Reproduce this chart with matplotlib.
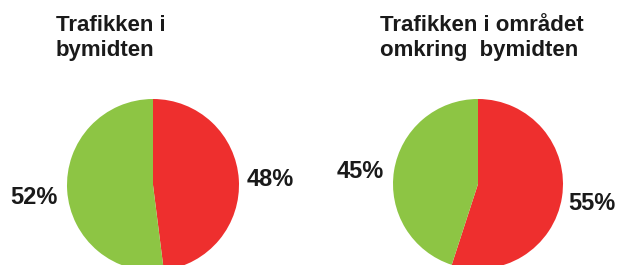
import matplotlib
matplotlib.use("Agg")
import matplotlib.pyplot as plt

titles = ["Trafikken i\nbymidten", "Trafikken i området\nomkring  bymidten"]
categories = ["Rød", "Grøn"]
left_values = [48, 52]
right_values = [55, 45]
colors = ["#EE2F2E", "#8DC544"]

W, H = 617, 265
fig = plt.figure(figsize=(W / 100, H / 100), dpi=100)
ax = fig.add_axes([0, 0, 1, 1])

font = dict(family=["Liberation Sans", "DejaVu Sans"], weight="bold", color="#1a1a1a")

ax.pie(left_values, colors=colors, startangle=90, counterclock=False,
       center=(153, H - 185), radius=86, frame=True,
       wedgeprops=dict(linewidth=0))
ax.pie(right_values, colors=colors, startangle=90, counterclock=False,
       center=(478, H - 184), radius=85, frame=True,
       wedgeprops=dict(linewidth=0))
ax.set_xlim(0, W)
ax.set_ylim(0, H)
ax.set_aspect("equal")
ax.axis("off")

ax.text(56, H - 15, titles[0], ha="left", va="top", fontsize=16, linespacing=1.25, **font)
ax.text(380, H - 15, titles[1], ha="left", va="top", fontsize=16, linespacing=1.25, **font)

ax.text(270, H - 180, f"{left_values[0]}%", ha="center", va="center", fontsize=17, **font)
ax.text(33.5, H - 197, f"{left_values[1]}%", ha="center", va="center", fontsize=17, **font)
ax.text(591.5, H - 203, f"{right_values[0]}%", ha="center", va="center", fontsize=17, **font)
ax.text(360.5, H - 172, f"{right_values[1]}%", ha="center", va="center", fontsize=17, **font)

fig.savefig("out.png", dpi=100)
